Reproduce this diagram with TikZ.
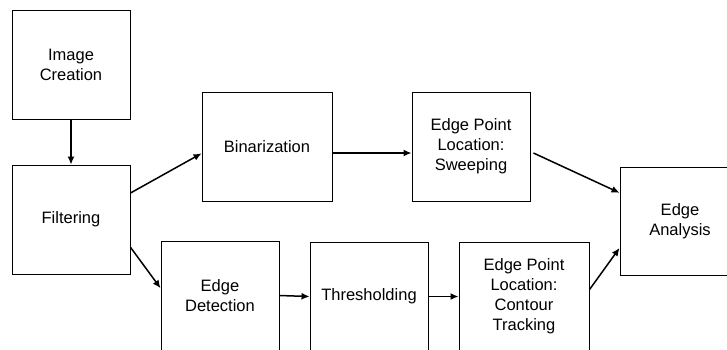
\documentclass[tikz,border=0pt]{standalone}
\usepackage{fontspec}
\setmainfont{Liberation Sans}
\usetikzlibrary{arrows.meta}
\begin{document}
\begin{tikzpicture}[x=1pt,y=-1pt,
  blk/.style={draw=black,line width=0.9pt,inner sep=0pt,align=center,
    font=\fontsize{16.5}{20}\selectfont,minimum height=109pt},
  arr/.style={line width=1.5pt,-{Latex[length=8pt,width=7pt]}}]
\useasboundingbox (0,0) rectangle (727,349);
\clip (0,0) rectangle (727,349);
\node[blk,minimum width=118pt] (img) at (71,64.5) {Image\\Creation};
\node[blk,minimum width=118pt] (filt) at (71,219.5) {Filtering};
\node[blk,minimum width=130pt] (bin) at (267,146.5) {Binarization};
\node[blk,minimum width=118pt] (sweep) at (471,146.5) {Edge Point\\Location:\\Sweeping};
\node[blk,minimum width=118pt] (edet) at (220,295.5) {Edge\\Detection};
\node[blk,minimum width=118pt] (thr) at (369,296.5) {Thresholding};
\node[blk,minimum width=130pt] (cont) at (524,296.5) {Edge Point\\Location:\\Contour\\Tracking};
\node[blk,minimum width=120pt,minimum height=108pt] (ea) at (680,221) {Edge\\Analysis};
\draw[arr] (img.south) -- (filt.north);
\draw[arr] (filt.24) -- (bin.186.6);
\draw[arr] (filt.-25) -- (edet.173.7);
\draw[arr] ([yshift=-6.5pt]bin.east) -- ([yshift=-6.5pt]sweep.west);
\draw[arr] ([shift={(3pt,-6.5pt)}]sweep.east) -- (ea.155.8);
\draw[arr] (edet.east) -- (thr.west);
\draw[arr] (thr.east) -- (cont.west);
\draw[arr] (cont.6.6) -- (ea.204.2);
\end{tikzpicture}
\end{document}
